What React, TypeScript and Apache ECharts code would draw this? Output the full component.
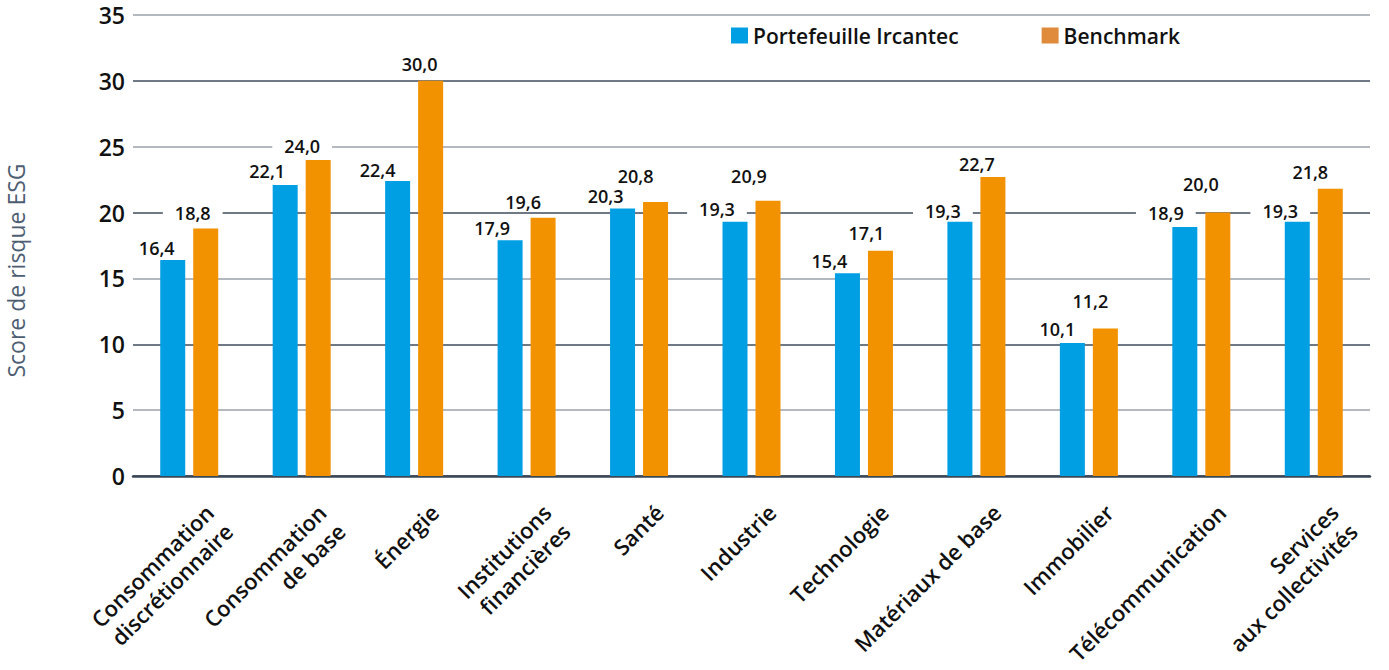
import React, { useEffect, useRef } from "react";
import * as echarts from "echarts";

const categories = [
  "Consommation\ndiscrétionnaire",
  "Consommation\nde base",
  "Énergie",
  "Institutions\nfinancières",
  "Santé",
  "Industrie",
  "Technologie",
  "Matériaux de base",
  "Immobilier",
  "Télécommunication",
  "Services\naux collectivités",
];
const portefeuille = [16.4, 22.1, 22.4, 17.9, 20.3, 19.3, 15.4, 19.3, 10.1, 18.9, 19.3];
const benchmark = [18.8, 24.0, 30.0, 19.6, 20.8, 20.9, 17.1, 22.7, 11.2, 20.0, 21.8];
const seriesNames = ["Portefeuille Ircantec", "Benchmark"];
const yTicks = { min: 0, max: 35, interval: 5 };
const axisTitle = "Score de risque ESG";

// label nudges (layout only): [dx, dy] of label centre from bar top centre
const labelShiftA = [[-16, -12], [-18, -14], [-20, -11], [-18, -12], [-17, -13], [-18, -13], [-18, -12], [-17, -11], [-15, -14], [-19, -14], [-17, -11]];
const labelShiftB = [[-13, -15], [-16, -14], [-11, -17], [-20, -16], [-20, -26], [-19, -25], [-14, -18], [-16, -13], [-15, -27], [-17, -29], [-20, -17]];

const FONT = "'Open Sans', sans-serif";
const BLUE = "#009fe3";
const ORANGE = "#f39200";
const LEGEND_ORANGE = "#e08b3b";

const fmt = (v: number) => v.toFixed(1).replace(".", ",");

export default function App() {
  const ref = useRef<HTMLDivElement>(null);
  useEffect(() => {
    if (!ref.current) return;
    const chart = echarts.init(ref.current, null, { renderer: "svg" });
    const labelBase = {
      show: true,
      position: "top" as const,
      distance: 0,
      fontFamily: FONT,
      fontSize: 18,
      fontWeight: 600,
      color: "#111111",
      backgroundColor: "#ffffff",
      padding: [0, 12],
      lineHeight: 18,
      formatter: (p: any) => fmt(p.value),
    };
    const mk = (vals: number[], shifts: number[][]) =>
      vals.map((v, i) => ({ value: v, label: { offset: [shifts[i][0], shifts[i][1] + 9] } }));
    chart.setOption({
      animation: false,
      grid: { left: 133, right: 19, top: 15, bottom: 194, containLabel: false, outerBoundsMode: "none" },
      legend: {
        left: 731,
        top: 25,
        padding: 0,
        itemWidth: 17,
        itemHeight: 16,
        itemGap: 83,
        icon: "rect",
        textStyle: { fontFamily: FONT, fontSize: 21, fontWeight: 600, color: "#111111" },
        data: [
          { name: seriesNames[0], itemStyle: { color: BLUE } },
          { name: seriesNames[1], itemStyle: { color: LEGEND_ORANGE } },
        ],
      },
      xAxis: {
        type: "category",
        data: categories,
        axisLine: { lineStyle: { color: "#3a4757", width: 2.5 } },
        axisTick: { show: false },
        axisLabel: {
          interval: 0,
          rotate: 45,
          margin: 12,
          verticalAlign: "top",
          padding: [15, 0, 0, 0],
          fontFamily: FONT,
          fontSize: 22,
          fontWeight: 600,
          lineHeight: 27,
          color: "#111111",
        },
      },
      yAxis: {
        type: "value",
        min: yTicks.min,
        max: yTicks.max,
        interval: yTicks.interval,
        name: axisTitle,
        nameLocation: "middle",
        nameRotate: 90,
        nameGap: 106,
        nameTextStyle: {
          fontFamily: FONT,
          fontSize: 23,
          fontWeight: 500,
          color: "#4d5d72",
          padding: [0, 50, 0, 0],
        },
        axisLine: { show: false },
        axisTick: { show: false },
        axisLabel: {
          margin: 8,
          fontFamily: FONT,
          fontSize: 23,
          fontWeight: 600,
          color: "#111111",
        },
        splitLine: { lineStyle: { color: ["#3f4b5c", "#9ba1aa"], width: 1.5 } },
      },
      series: [
        {
          name: seriesNames[0],
          type: "bar",
          barWidth: 25,
          barGap: "32%",
          itemStyle: { color: BLUE },
          label: labelBase,
          data: mk(portefeuille, labelShiftA),
          z: 3,
        },
        {
          name: seriesNames[1],
          type: "bar",
          barWidth: 25,
          itemStyle: { color: ORANGE },
          label: labelBase,
          data: mk(benchmark, labelShiftB),
          z: 3,
        },
      ],
    });
    return () => chart.dispose();
  }, []);
  return <div ref={ref} style={{ width: 1389, height: 670, position: "absolute", left: 0, top: 0 }} />;
}
